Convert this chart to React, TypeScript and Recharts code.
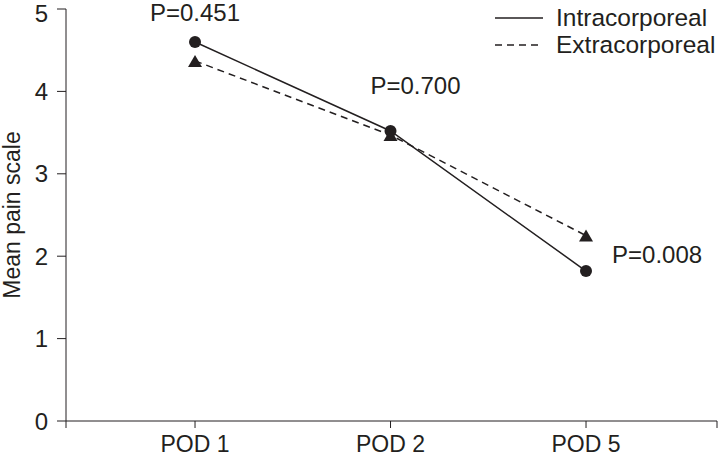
import { LineChart, Line, XAxis, YAxis, LabelList } from "recharts";

const categories = ["POD 1", "POD 2", "POD 5"];
const intracorporeal = [4.6, 3.52, 1.82];
const extracorporeal = [4.37, 3.47, 2.25];
const pValues = ["P=0.451", "P=0.700", "P=0.008"];
const yTicks = [0, 1, 2, 3, 4, 5];
const xTicks = [0.34, 1, 2, 3, 3.67];
const seriesNames = ["Intracorporeal", "Extracorporeal"];

const INK = "#231f20";
const FONT = "'Liberation Sans', Arial, sans-serif";

const data = categories.map((name, i) => ({
  x: i + 1,
  name,
  intra: intracorporeal[i],
  extra: extracorporeal[i],
  p: pValues[i],
}));

const CircleDot = (props: any) => {
  const { cx, cy } = props;
  if (cx == null || cy == null) return null;
  return <circle cx={cx} cy={cy} r={6} fill={INK} />;
};

const TriangleDot = (props: any) => {
  const { cx, cy } = props;
  if (cx == null || cy == null) return null;
  return <path d={`M${cx},${cy - 6} L${cx + 7},${cy + 6} L${cx - 7},${cy + 6} Z`} fill={INK} />;
};

// where each P value sits relative to its intracorporeal point
const PLabel = (props: any) => {
  const { x, y, value, index } = props;
  let dx = 0, dy = -21, anchor = "middle";
  if (index === 1) { dx = 25; dy = -37; }
  if (index === 2) { dx = 26; dy = -8; anchor = "start"; }
  return (
    <text x={x + dx} y={y + dy} textAnchor={anchor} fontSize={24} fill={INK} fontFamily={FONT}>
      {value}
    </text>
  );
};

const LegendBox = () => (
  <div
    style={{
      position: "absolute", left: 493, top: 4, fontFamily: FONT, fontSize: 24.5,
      color: INK, lineHeight: "27px", whiteSpace: "nowrap",
    }}
  >
    {seriesNames.map((label, i) => (
      <div key={label} style={{ display: "flex", alignItems: "center", height: 27 }}>
        <svg width={63} height={10}>
          <line x1={2} y1={5} x2={50} y2={5} stroke={INK} strokeWidth={1.5} strokeDasharray={i === 1 ? "7 5" : undefined} />
        </svg>
        <span>{label}</span>
      </div>
    ))}
  </div>
);

export default function App() {
  return (
    <div style={{ position: "absolute", left: 0, top: 0, width: 718, height: 457, background: "#fff", overflow: "hidden" }}>
      <LineChart width={718} height={457} data={data} margin={{ top: 9, right: 1, left: 0, bottom: 0 }}>
        <XAxis
          type="number"
          dataKey="x"
          domain={[0.34, 3.67]}
          ticks={xTicks}
          allowDataOverflow
          interval={0}
          height={36}
          tickSize={7}
          tickMargin={8}
          stroke={INK}
          tick={{ fill: INK, fontSize: 23, fontFamily: FONT }}
          tickFormatter={(v: number) => (Number.isInteger(v) ? categories[v - 1] : "")}
        />
        <YAxis
          domain={[0, 5]}
          ticks={yTicks}
          width={66}
          tickSize={9}
          tickMargin={9}
          stroke={INK}
          tick={{ fill: INK, fontSize: 24, fontFamily: FONT }}
          label={{ value: "Mean pain scale", angle: -90, position: "center", dx: -21, fill: INK, fontSize: 23, fontFamily: FONT }}
        />
        <Line
          dataKey="extra"
          name={seriesNames[1]}
          stroke={INK}
          strokeWidth={1.5}
          strokeDasharray="7 5"
          dot={<TriangleDot />}
          isAnimationActive={false}
        />
        <Line
          dataKey="intra"
          name={seriesNames[0]}
          stroke={INK}
          strokeWidth={1.5}
          dot={<CircleDot />}
          isAnimationActive={false}
        >
          <LabelList dataKey="p" content={<PLabel />} />
        </Line>
      </LineChart>
      <LegendBox />
    </div>
  );
}
